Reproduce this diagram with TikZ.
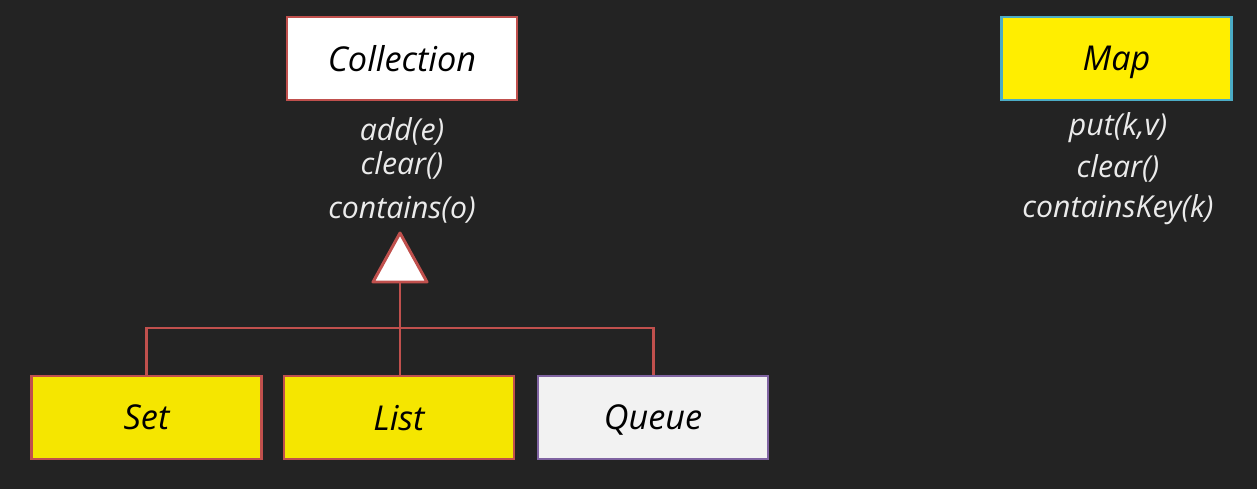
\documentclass[tikz,border=0pt]{standalone}
\usepackage{fontspec}
\setmainfont{Open Sans}
\definecolor{bgdark}{HTML}{232323}
\definecolor{boxred}{HTML}{C0504D}
\definecolor{boxteal}{HTML}{4BACC6}
\definecolor{boxviolet}{HTML}{8064A2}
\definecolor{boxyellow}{HTML}{F5E600}
\definecolor{mapyellow}{HTML}{FFEE00}
\definecolor{qgray}{HTML}{F2F2F2}
\begin{document}
\begin{tikzpicture}[
		cls/.style={draw=boxred, line width=1.6pt, minimum width=4.6cm, minimum height=1.66cm, text depth=0pt, font=\fontsize{19.5}{22}\selectfont\itshape, text=black},
		meth/.style={font=\fontsize{17.2}{20}\selectfont\itshape, text=white!92!black},
		link/.style={draw=boxred, line width=1.7pt}
	]

		\fill[bgdark] (0, 0) rectangle (25.14, 9.78);

		\node[cls, fill=white] (coll) at(8.04, 8.61){Collection};
		\node[cls, fill=mapyellow, draw=boxteal] (map) at(22.33, 8.61){Map};

		\node[meth] (cadd) at(8.04, 7.16){add(e)};
		\node[meth] (cclear) at(8.04, 6.48){clear()};
		\node[meth] (ccont) at(8.04, 5.58){contains(o)};

		\node[meth] (mput) at(22.36, 7.22){put(k,v)};
		\node[meth] (mclear) at(22.36, 6.42){clear()};
		\node[meth] (mcont) at(22.36, 5.58){containsKey(k)};

		\node[cls, fill=boxyellow] (set) at(2.93, 1.43){Set};
		\node[cls, fill=boxyellow] (list) at(7.98, 1.43){List};
		\node[cls, fill=qgray, draw=boxviolet] (queue) at(13.06, 1.43){Queue};

		% inheritance triangle
		\coordinate (tip) at(8.0, 5.12);
		\coordinate (tbase) at(8.0, 4.14);
		\filldraw[link, fill=white, line join=round] (tip) -- (8.54, 4.14) -- (7.46, 4.14) -- cycle;

		\coordinate (fork) at(8.0, 3.22);
		\draw[link] (tbase) -- (fork);
		\draw[link] (fork) -| (set.north);
		\draw[link] (fork) -- (fork |- list.north);
		\draw[link] (fork) -| (queue.north);

\end{tikzpicture}
\end{document}
